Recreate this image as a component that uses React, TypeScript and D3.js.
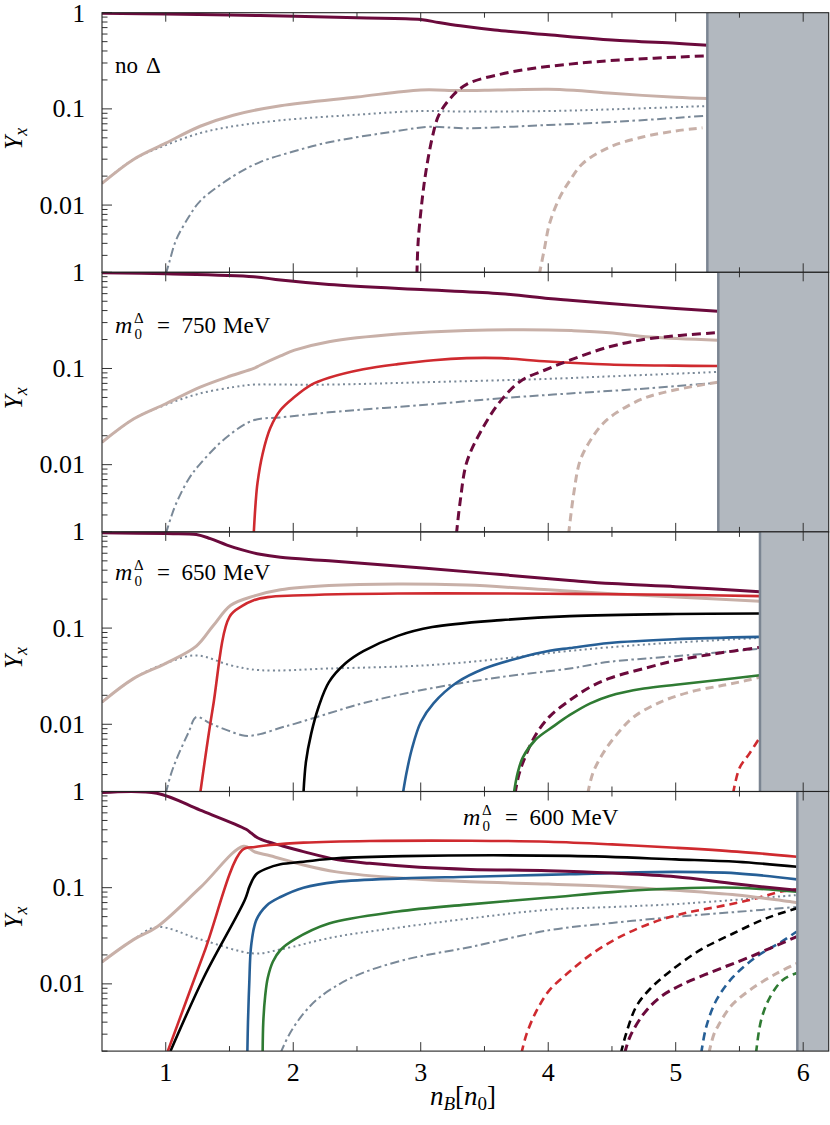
import React from 'react';
import * as d3 from 'd3';

type Pt = [number, number];

const W = 830, H = 1125;
const LEFT = 102, RIGHT = 828.7, TOP = 12.7, PANEL_H = 259.6;

const xTickValues = [1, 2, 3, 4, 5, 6];
const xMinorValues = [1.5, 2.5, 3.5, 4.5, 5.5];
const yTickValues = [1, 0.1, 0.01];
const yTickLabels = ['1', '0.1', '0.01'];
const yMinorValues = [0.002, 0.003, 0.004, 0.005, 0.006, 0.007, 0.008, 0.009,
  0.02, 0.03, 0.04, 0.05, 0.06, 0.07, 0.08, 0.09,
  0.2, 0.3, 0.4, 0.5, 0.6, 0.7, 0.8, 0.9];

// right-hand excluded region (start in n_B) for each panel
const edgeValues = [5.248, 5.334, 5.661, 5.954];
const panelLabels = ['no Δ', '750', '650', '600'];

// ---------- panel 1: no Delta ----------
const p1_n: Pt[] = [[0.5, 0.985], [1.0, 0.97], [1.74, 0.935], [2.5, 0.885], [3.0, 0.85], [3.14, 0.79], [3.31, 0.73], [3.58, 0.66], [4.0, 0.59], [4.5, 0.52], [5.0, 0.48], [5.25, 0.46]];
const p1_p: Pt[] = [[0.5, 0.0168], [0.75, 0.03], [1.0, 0.044], [1.27, 0.066], [1.53, 0.086], [1.9, 0.108], [2.5, 0.133], [3.0, 0.157], [3.3, 0.155], [3.6, 0.157], [4.0, 0.16], [4.2, 0.156], [4.5, 0.145], [5.0, 0.132], [5.25, 0.128]];
const p1_e: Pt[] = [[0.5, 0.0168], [0.75, 0.03], [1.0, 0.042], [1.27, 0.056], [1.5, 0.065], [1.9, 0.076], [2.5, 0.087], [3.0, 0.095], [3.3, 0.094], [4.0, 0.095], [4.5, 0.099], [5.25, 0.107]];
const p1_mu: Pt[] = [[1.0, 0.0019], [1.03, 0.0026], [1.08, 0.0043], [1.18, 0.0075], [1.27, 0.011], [1.53, 0.02], [1.74, 0.028], [2.0, 0.036], [2.28, 0.045], [2.82, 0.059], [3.06, 0.065], [3.36, 0.063], [4.0, 0.068], [4.5, 0.073], [5.25, 0.085]];
const p1_lam: Pt[] = [[2.97, 0.0019], [2.98, 0.0042], [3.01, 0.011], [3.04, 0.022], [3.09, 0.05], [3.14, 0.085], [3.23, 0.128], [3.36, 0.18], [3.63, 0.23], [3.9, 0.266], [4.17, 0.292], [4.48, 0.317], [5.25, 0.357]];
const p1_sig: Pt[] = [[3.93, 0.0019], [3.97, 0.0035], [4.01, 0.0064], [4.09, 0.012], [4.17, 0.018], [4.27, 0.027], [4.48, 0.04], [4.74, 0.051], [5.0, 0.059], [5.21, 0.0635]];

// ---------- panel 2: m0 = 750 MeV ----------
const p2_n: Pt[] = [[0.5, 0.99], [1.0, 0.965], [1.69, 0.9], [1.9, 0.83], [2.28, 0.745], [3.04, 0.657], [3.63, 0.6], [4.0, 0.535], [4.17, 0.512], [4.48, 0.474], [5.0, 0.42], [5.33, 0.394]];
const p2_p: Pt[] = [[0.5, 0.0171], [0.75, 0.03], [1.0, 0.043], [1.27, 0.064], [1.5, 0.083], [1.69, 0.1], [1.74, 0.108], [1.9, 0.135], [2.01, 0.155], [2.28, 0.19], [2.82, 0.228], [3.36, 0.248], [4.0, 0.252], [4.2, 0.247], [4.48, 0.235], [4.8, 0.212], [5.33, 0.197]];
const p2_e: Pt[] = [[0.5, 0.0171], [0.75, 0.03], [1.0, 0.042], [1.27, 0.055], [1.53, 0.064], [1.69, 0.068], [1.9, 0.068], [2.28, 0.068], [3.04, 0.072], [4.0, 0.078], [4.5, 0.083], [5.33, 0.092]];
const p2_mu: Pt[] = [[1.0, 0.0019], [1.04, 0.0028], [1.08, 0.0039], [1.18, 0.0071], [1.27, 0.0102], [1.48, 0.0194], [1.69, 0.029], [1.9, 0.031], [2.28, 0.035], [3.04, 0.042], [3.63, 0.049], [4.17, 0.055], [4.7, 0.061], [5.33, 0.071]];
const p2_dm: Pt[] = [[1.69, 0.0019], [1.705, 0.004], [1.72, 0.0065], [1.76, 0.013], [1.82, 0.024], [1.9, 0.037], [2.01, 0.0506], [2.14, 0.0676], [2.28, 0.08], [2.55, 0.098], [2.82, 0.111], [3.1, 0.122], [3.36, 0.128], [3.63, 0.128], [4.0, 0.118], [4.48, 0.11], [5.0, 0.107], [5.33, 0.106]];
const p2_lam: Pt[] = [[3.28, 0.0019], [3.31, 0.0042], [3.36, 0.0105], [3.47, 0.022], [3.63, 0.0466], [3.79, 0.075], [3.98, 0.097], [4.17, 0.122], [4.48, 0.168], [4.8, 0.205], [5.33, 0.236]];
const p2_sig: Pt[] = [[4.16, 0.0019], [4.2, 0.005], [4.25, 0.011], [4.33, 0.0178], [4.43, 0.0268], [4.54, 0.035], [4.75, 0.049], [5.0, 0.06], [5.33, 0.072]];

// ---------- panel 3: m0 = 650 MeV ----------
const p3_n: Pt[] = [[0.5, 0.98], [1.0, 0.96], [1.24, 0.94], [1.35, 0.85], [1.48, 0.73], [1.6, 0.65], [1.74, 0.585], [1.9, 0.545], [2.28, 0.5], [3.04, 0.418], [3.63, 0.36], [4.17, 0.313], [4.5, 0.29], [5.0, 0.269], [5.66, 0.239]];
const p3_p: Pt[] = [[0.5, 0.017], [0.75, 0.03], [1.0, 0.043], [1.24, 0.065], [1.37, 0.105], [1.51, 0.173], [1.69, 0.215], [1.9, 0.25], [2.28, 0.277], [2.82, 0.288], [3.36, 0.28], [4.0, 0.25], [4.5, 0.228], [5.0, 0.211], [5.66, 0.19]];
const p3_e: Pt[] = [[0.5, 0.017], [0.75, 0.03], [1.0, 0.043], [1.24, 0.052], [1.51, 0.041], [1.74, 0.0365], [2.28, 0.038], [3.04, 0.041], [3.63, 0.048], [4.17, 0.058], [4.8, 0.068], [5.66, 0.079]];
const p3_mu: Pt[] = [[1.0, 0.0019], [1.04, 0.003], [1.08, 0.0042], [1.18, 0.0083], [1.24, 0.0119], [1.35, 0.0102], [1.48, 0.0087], [1.62, 0.0076], [1.74, 0.0079], [1.9, 0.0092], [2.01, 0.0101], [2.28, 0.013], [2.55, 0.0166], [3.04, 0.0231], [3.63, 0.031], [4.17, 0.038], [4.48, 0.0446], [5.0, 0.051], [5.66, 0.061]];
const p3_dm: Pt[] = [[1.27, 0.0019], [1.37, 0.015], [1.5, 0.131], [1.6, 0.17], [1.69, 0.195], [1.8, 0.21], [2.0, 0.218], [2.82, 0.229], [4.17, 0.227], [5.0, 0.222], [5.66, 0.215]];
const p3_d0: Pt[] = [[2.08, 0.0019], [2.1, 0.0041], [2.14, 0.0079], [2.2, 0.0153], [2.28, 0.0274], [2.41, 0.043], [2.55, 0.0575], [2.82, 0.083], [3.09, 0.1025], [3.63, 0.121], [4.17, 0.133], [5.0, 0.14], [5.66, 0.142]];
const p3_dp: Pt[] = [[2.86, 0.0019], [2.89, 0.0032], [2.93, 0.0055], [3.0, 0.0105], [3.1, 0.0165], [3.28, 0.027], [3.5, 0.038], [3.77, 0.049], [4.01, 0.058], [4.17, 0.062], [4.48, 0.07], [4.99, 0.0766], [5.66, 0.081]];
const p3_dpp: Pt[] = [[3.73, 0.0019], [3.76, 0.0031], [3.8, 0.0045], [3.9, 0.0069], [4.04, 0.0095], [4.17, 0.0125], [4.33, 0.0165], [4.48, 0.0197], [4.75, 0.0235], [5.0, 0.0258], [5.32, 0.0287], [5.66, 0.0323]];
const p3_lam: Pt[] = [[3.74, 0.0019], [3.77, 0.003], [3.82, 0.0046], [3.9, 0.0077], [4.01, 0.012], [4.17, 0.0178], [4.33, 0.0244], [4.48, 0.03], [4.75, 0.038], [5.0, 0.046], [5.32, 0.0544], [5.66, 0.063]];
const p3_sig: Pt[] = [[4.31, 0.0019], [4.35, 0.0031], [4.43, 0.005], [4.54, 0.0079], [4.67, 0.0119], [4.88, 0.017], [5.11, 0.0216], [5.37, 0.0254], [5.58, 0.029], [5.66, 0.031]];
const p3_sm: Pt[] = [[5.45, 0.0019], [5.5, 0.0035], [5.58, 0.005], [5.66, 0.0073]];

// ---------- panel 4: m0 = 600 MeV ----------
const p4_n: Pt[] = [[0.5, 0.975], [0.93, 0.96], [1.27, 0.64], [1.63, 0.405], [1.67, 0.37], [1.72, 0.33], [1.8, 0.3], [1.9, 0.275], [2.08, 0.237], [2.34, 0.196], [2.6, 0.179], [2.99, 0.163], [3.39, 0.155], [4.0, 0.15], [4.5, 0.142], [5.0, 0.13], [5.48, 0.109], [5.95, 0.094]];
const p4_p: Pt[] = [[0.5, 0.0169], [0.75, 0.029], [0.93, 0.039], [1.27, 0.1], [1.61, 0.27], [1.7, 0.235], [1.82, 0.215], [2.08, 0.172], [2.34, 0.146], [2.86, 0.125], [3.39, 0.115], [4.0, 0.109], [4.5, 0.103], [5.0, 0.094], [5.48, 0.084], [5.95, 0.07]];
const p4_e: Pt[] = [[0.5, 0.0169], [0.75, 0.029], [0.93, 0.039], [1.27, 0.029], [1.69, 0.0207], [1.9, 0.0228], [2.34, 0.031], [2.86, 0.039], [3.39, 0.048], [4.0, 0.059], [4.5, 0.063], [5.0, 0.0675], [5.95, 0.0837]];
const p4_mu: Pt[] = [[1.9, 0.0019], [1.97, 0.003], [2.08, 0.0049], [2.21, 0.0073], [2.47, 0.0118], [2.86, 0.0176], [3.39, 0.0242], [4.0, 0.036], [4.5, 0.043], [5.0, 0.0498], [5.48, 0.056], [5.95, 0.063]];
const p4_dm: Pt[] = [[1.01, 0.0019], [1.3, 0.021], [1.6, 0.246], [1.7, 0.265], [1.82, 0.278], [2.08, 0.294], [2.6, 0.306], [3.39, 0.308], [4.0, 0.3], [4.5, 0.282], [5.0, 0.26], [5.48, 0.237], [5.95, 0.21]];
const p4_d0: Pt[] = [[1.03, 0.0019], [1.3, 0.0118], [1.62, 0.0745], [1.66, 0.105], [1.71, 0.138], [1.79, 0.158], [1.9, 0.175], [2.08, 0.186], [2.34, 0.202], [2.86, 0.213], [4.17, 0.214], [5.0, 0.197], [5.48, 0.186], [5.95, 0.165]];
const p4_dp: Pt[] = [[1.64, 0.0019], [1.645, 0.004], [1.655, 0.01], [1.67, 0.025], [1.71, 0.046], [1.79, 0.065], [1.9, 0.08], [2.08, 0.1], [2.34, 0.115], [2.86, 0.125], [3.39, 0.13], [4.17, 0.138], [5.0, 0.146], [5.48, 0.141], [5.95, 0.122]];
const p4_dpp: Pt[] = [[1.76, 0.0019], [1.765, 0.004], [1.78, 0.0075], [1.8, 0.0115], [1.84, 0.017], [1.9, 0.0225], [2.01, 0.029], [2.28, 0.0424], [2.82, 0.0565], [3.36, 0.0667], [4.01, 0.079], [4.5, 0.09], [5.0, 0.098], [5.48, 0.1], [5.95, 0.0906]];
const p4_sm: Pt[] = [[3.79, 0.0019], [3.83, 0.003], [3.91, 0.0053], [4.01, 0.0086], [4.17, 0.0135], [4.33, 0.02], [4.54, 0.0297], [4.8, 0.0425], [5.06, 0.054], [5.32, 0.063], [5.58, 0.0744], [5.84, 0.092], [5.95, 0.096]];
const p4_s0: Pt[] = [[4.57, 0.0019], [4.61, 0.003], [4.69, 0.0058], [4.8, 0.0089], [4.95, 0.0133], [5.19, 0.0224], [5.45, 0.0334], [5.71, 0.048], [5.95, 0.061]];
const p4_lam: Pt[] = [[4.6, 0.0019], [4.64, 0.0028], [4.75, 0.0049], [4.88, 0.0073], [5.06, 0.01], [5.32, 0.0139], [5.58, 0.019], [5.95, 0.031]];
const p4_sp: Pt[] = [[5.2, 0.0019], [5.24, 0.0036], [5.32, 0.0068], [5.45, 0.0118], [5.63, 0.019], [5.84, 0.028], [5.95, 0.035]];
const p4_sig: Pt[] = [[5.26, 0.0019], [5.3, 0.003], [5.34, 0.0038], [5.43, 0.0058], [5.58, 0.0086], [5.79, 0.0128], [5.95, 0.0163]];
const p4_xi: Pt[] = [[5.63, 0.0019], [5.67, 0.0042], [5.74, 0.0073], [5.84, 0.011], [5.95, 0.013]];

const MAROON = '#6b0a3c', TAN = '#c8b0a8', SLATE = '#7a8998', RED = '#cf2a2f', BLUE = '#265f96', GREEN = '#2f7b33', BLACK = '#000';

const STYLES: Record<string, { stroke: string; width: number; dash?: string }> = {
  n: { stroke: MAROON, width: 3 },
  p: { stroke: TAN, width: 3 },
  e: { stroke: SLATE, width: 2, dash: '2,3.3' },
  mu: { stroke: SLATE, width: 2, dash: '9,3.5,2.5,3.5' },
  lam: { stroke: MAROON, width: 3, dash: '9,5' },
  sig: { stroke: TAN, width: 3, dash: '8,5' },
  dm: { stroke: RED, width: 2.6 },
  d0: { stroke: BLACK, width: 2.6 },
  dp: { stroke: BLUE, width: 2.6 },
  dpp: { stroke: GREEN, width: 2.6 },
  smD: { stroke: RED, width: 2.6, dash: '8,5' },
  s0D: { stroke: BLACK, width: 2.6, dash: '8,5' },
  spD: { stroke: BLUE, width: 2.6, dash: '8,5' },
  xiD: { stroke: GREEN, width: 2.6, dash: '8,5' },
};

const panels: { key: string; data: Pt[] }[][] = [
  [{ key: 'e', data: p1_e }, { key: 'mu', data: p1_mu }, { key: 'sig', data: p1_sig }, { key: 'p', data: p1_p }, { key: 'lam', data: p1_lam }, { key: 'n', data: p1_n }],
  [{ key: 'e', data: p2_e }, { key: 'mu', data: p2_mu }, { key: 'sig', data: p2_sig }, { key: 'p', data: p2_p }, { key: 'dm', data: p2_dm }, { key: 'lam', data: p2_lam }, { key: 'n', data: p2_n }],
  [{ key: 'e', data: p3_e }, { key: 'mu', data: p3_mu }, { key: 'sig', data: p3_sig }, { key: 'smD', data: p3_sm }, { key: 'p', data: p3_p }, { key: 'dm', data: p3_dm }, { key: 'd0', data: p3_d0 }, { key: 'dp', data: p3_dp }, { key: 'lam', data: p3_lam }, { key: 'dpp', data: p3_dpp }, { key: 'n', data: p3_n }],
  [{ key: 'e', data: p4_e }, { key: 'mu', data: p4_mu }, { key: 'sig', data: p4_sig }, { key: 'xiD', data: p4_xi }, { key: 'spD', data: p4_sp }, { key: 'lam', data: p4_lam }, { key: 's0D', data: p4_s0 }, { key: 'smD', data: p4_sm }, { key: 'p', data: p4_p }, { key: 'dpp', data: p4_dpp }, { key: 'dp', data: p4_dp }, { key: 'n', data: p4_n }, { key: 'd0', data: p4_d0 }, { key: 'dm', data: p4_dm }],
];

const FONT = 'Liberation Serif, Times New Roman, Times, DejaVu Serif, Noto Serif, serif';

const x = d3.scaleLinear().domain([0.5, 6.2]).range([LEFT, RIGHT]);

function MassLabel({ x0, y0, value }: { x0: number; y0: number; value: string }) {
  return (
    <g style={{ fontFamily: FONT }} fill="#000">
      <text x={x0} y={y0} fontSize={24} fontStyle="italic">m</text>
      <text x={x0 + 19} y={y0 - 10} fontSize={15}>Δ</text>
      <text x={x0 + 19.5} y={y0 + 6} fontSize={15}>0</text>
      <text x={x0 + 42} y={y0} fontSize={23}>=</text>
      <text x={x0 + 66.5} y={y0} fontSize={23}>{value}</text>
      <text x={x0 + 108} y={y0} fontSize={23}>MeV</text>
    </g>
  );
}

function Panel({ idx }: { idx: number }) {
  const top = TOP + idx * PANEL_H;
  const bottom = top + PANEL_H;
  const y = d3.scaleLog().domain([0.002, 1]).range([bottom, top]);
  const line = d3.line<Pt>().x(d => x(d[0])).y(d => y(d[1])).curve(d3.curveCatmullRom.alpha(0.5));
  const clipId = `clip${idx}`;
  const edgeX = x(edgeValues[idx]);
  const tickColor = '#333';
  return (
    <g>
      <defs>
        <clipPath id={clipId}>
          <rect x={LEFT} y={top} width={RIGHT - LEFT} height={PANEL_H} />
        </clipPath>
      </defs>
      <g clipPath={`url(#${clipId})`}>
        {panels[idx].map((s, i) => {
          const st = STYLES[s.key];
          return (
            <path key={i} d={line(s.data) || ''} fill="none" stroke={st.stroke}
              strokeWidth={st.width} strokeDasharray={st.dash} strokeLinejoin="round" />
          );
        })}
        <rect x={edgeX} y={top} width={RIGHT - edgeX} height={PANEL_H} fill="#b2b8bf" />
        <line x1={edgeX} x2={edgeX} y1={top} y2={bottom} stroke="#7b8592" strokeWidth={2.5} />
      </g>
      {/* y ticks */}
      {yTickValues.map((v, i) => (
        <g key={'yt' + i}>
          <line x1={LEFT} x2={LEFT + 10} y1={y(v)} y2={y(v)} stroke={tickColor} strokeWidth={1} />
          <text x={85} y={y(v) + (idx === 0 && i === 0 ? 9.3 : 8.5)} fontSize={idx === 0 && i === 0 ? 25 : 26}
            style={{ fontFamily: FONT }} textAnchor="end">{yTickLabels[i]}</text>
        </g>
      ))}
      {yMinorValues.map((v, i) => (
        <line key={'ym' + i} x1={LEFT} x2={LEFT + 5.5} y1={y(v)} y2={y(v)} stroke={tickColor} strokeWidth={1} />
      ))}
      {/* x ticks top & bottom */}
      {xTickValues.map((v, i) => (
        <g key={'xt' + i}>
          <line x1={x(v)} x2={x(v)} y1={top} y2={top + 9} stroke={tickColor} strokeWidth={1} />
          <line x1={x(v)} x2={x(v)} y1={bottom} y2={bottom - 9} stroke={tickColor} strokeWidth={1} />
        </g>
      ))}
      {xMinorValues.map((v, i) => (
        <g key={'xm' + i}>
          <line x1={x(v)} x2={x(v)} y1={top} y2={top + 5} stroke={tickColor} strokeWidth={1} />
          <line x1={x(v)} x2={x(v)} y1={bottom} y2={bottom - 5} stroke={tickColor} strokeWidth={1} />
        </g>
      ))}
      <rect x={LEFT} y={top} width={RIGHT - LEFT} height={PANEL_H} fill="none" stroke="#222" strokeWidth={1.1} />
      {/* y label */}
      <text transform={`translate(22, ${top + 126}) rotate(-90)`} style={{ fontFamily: FONT }} textAnchor="middle">
        <tspan fontSize={25} fontStyle="italic">Y</tspan>
        <tspan fontSize={18} fontStyle="italic" dy={5}>x</tspan>
      </text>
      {/* annotation */}
      {idx === 0 ? (
        <g style={{ fontFamily: FONT }} fontSize={23}>
          <text x={115} y={73}>no</text>
          <text x={146} y={73}>Δ</text>
        </g>
      ) : idx === 3 ? (
        <MassLabel x0={463} y0={825} value={panelLabels[idx]} />
      ) : (
        <MassLabel x0={115} y0={idx === 1 ? 333 : 580} value={panelLabels[idx]} />
      )}
    </g>
  );
}

export default function App() {
  const bottomAxis = TOP + 4 * PANEL_H;
  return (
    <svg width={W} height={H} style={{ position: 'absolute', left: 0, top: 0, background: '#fff' }}>
      <rect x={0} y={0} width={W} height={H} fill="#fff" />
      {[0, 1, 2, 3].map(i => <Panel key={i} idx={i} />)}
      {xTickValues.map((v, i) => (
        <text key={'xl' + i} x={x(v)} y={bottomAxis + 30} fontSize={26} style={{ fontFamily: FONT }} textAnchor="middle">{v}</text>
      ))}
      <text x={463} y={1105} style={{ fontFamily: FONT }} textAnchor="middle">
        <tspan fontSize={27} fontStyle="italic">n</tspan>
        <tspan fontSize={19} fontStyle="italic" dy={5}>B</tspan>
        <tspan fontSize={27} dy={-5}>[</tspan>
        <tspan fontSize={27} fontStyle="italic">n</tspan>
        <tspan fontSize={19} dy={5}>0</tspan>
        <tspan fontSize={27} dy={-5}>]</tspan>
      </text>
    </svg>
  );
}
